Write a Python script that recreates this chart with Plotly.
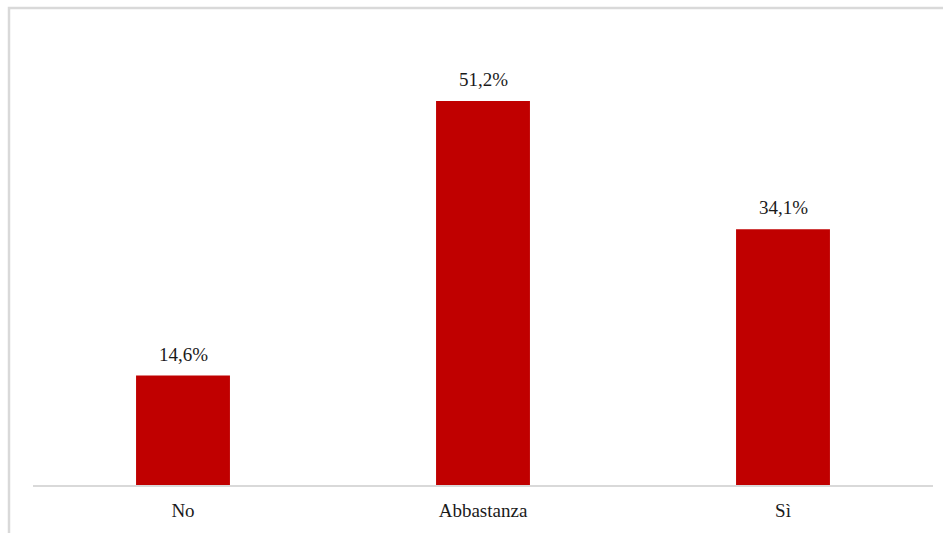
import plotly.graph_objects as go

# Risposte e percentuali
categorie = ["No", "Abbastanza", "Sì"]
percentuali = [14.6, 51.2, 34.1]
etichette = ["14,6%", "51,2%", "34,1%"]

ROSSO = "#C00000"
GRIGIO = "#D9D9D9"
FONT = "Liberation Serif"

fig = go.Figure(
    go.Bar(
        x=categorie,
        y=percentuali,
        marker=dict(color=ROSSO, line=dict(width=0)),
        width=0.313,
        hoverinfo="skip",
    )
)

# Etichette dei valori sopra le barre
for cat, val, lab in zip(categorie, percentuali, etichette):
    fig.add_annotation(
        x=cat, y=val, text=lab, showarrow=False,
        yanchor="bottom", yshift=9,
        font=dict(family=FONT, size=19, color="#1a1a1a"),
    )

# Cornice esterna del grafico
fig.add_shape(
    type="rect", xref="paper", yref="paper",
    x0=(9 - 33) / 900, x1=1.05,
    y0=-0.3, y1=(485 - 8) / 450,
    line=dict(color=GRIGIO, width=2.5),
    fillcolor="rgba(0,0,0,0)",
    layer="below",
)

fig.update_layout(
    width=943, height=533,
    margin=dict(l=33, r=10, t=35, b=48),
    plot_bgcolor="white", paper_bgcolor="white",
    showlegend=False,
    bargap=0.687,
    font=dict(family=FONT, size=19, color="#1a1a1a"),
)
fig.update_xaxes(
    showline=True, linecolor=GRIGIO, linewidth=1.5,
    showgrid=False, zeroline=False,
    ticks="outside", ticklen=7, tickcolor="rgba(0,0,0,0)",
    tickfont=dict(family=FONT, size=19, color="#1a1a1a"),
)
fig.update_yaxes(
    range=[0, 60], visible=False, showgrid=False, zeroline=False,
)

fig.write_html("out.html")
